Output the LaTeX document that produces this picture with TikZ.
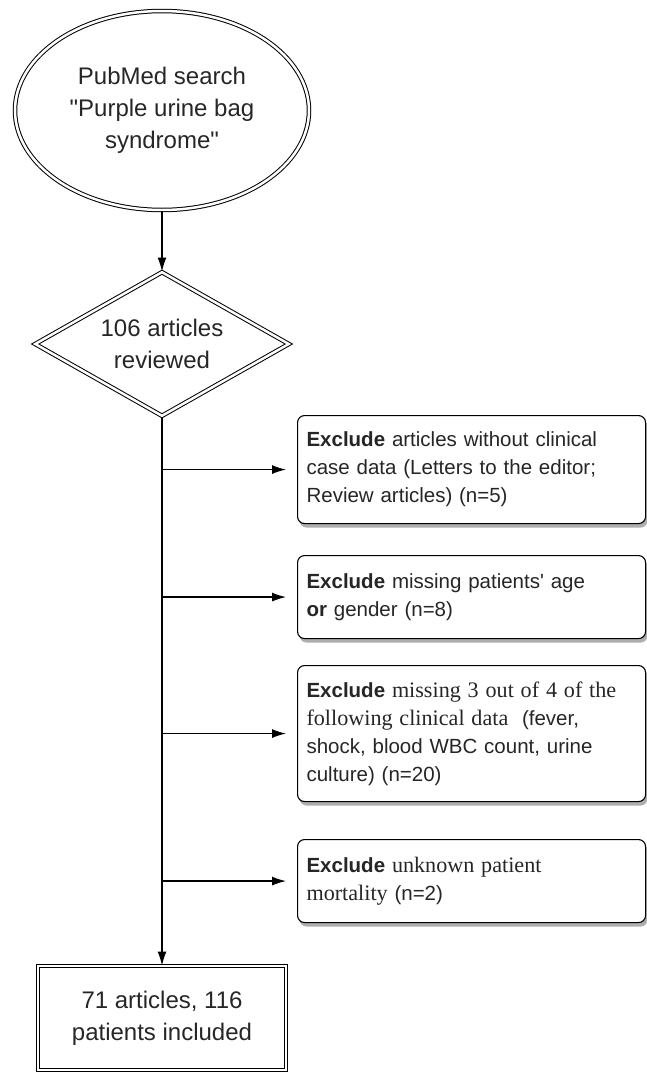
\documentclass[tikz,border=0pt]{standalone}
\usepackage{fontspec}
\setmainfont{Liberation Sans}
\newfontfamily\serifpart[Scale=1.08]{Liberation Serif}
\usepackage{tikz}
\usetikzlibrary{shapes.geometric, arrows.meta, positioning, calc, shadows}

\begin{document}
\begin{tikzpicture}[
    x=1pt, y=-1pt,
    big/.style={font=\fontsize{24}{32}\selectfont, align=center, text=black!85},
    search/.style={ellipse, draw, double, double distance=2.5pt, line width=1pt, minimum width=294pt, minimum height=199pt, inner sep=0pt, big},
    review/.style={diamond, draw, double, double distance=2.5pt, line width=1pt, aspect=1.76, minimum width=254pt, minimum height=144pt, inner sep=0pt, big},
    result/.style={rectangle, draw, double, double distance=2.5pt, line width=1pt, minimum width=248pt, minimum height=104pt, inner sep=0pt, big},
    exclude/.style={rectangle, draw, fill=white, rounded corners=7pt, line width=1.1pt, text width=330pt, inner xsep=9pt, align=left, anchor=north west,
      font=\fontsize{20.5}{28}\selectfont, text=black!85,
      drop shadow={shadow xshift=2pt, shadow yshift=-4pt, opacity=0.45, fill=black!70}},
    arrow/.style={line width=1.2pt, -{Latex[length=14pt,width=9pt]}}
  ]
  \useasboundingbox (0,0) rectangle (646,1074);
  \node (pubmed) [search] at (162,110.5) {PubMed search\\\textquotedbl Purple urine bag\\syndrome\textquotedbl};
  \node (reviewed) [review] at (162,344) {106 articles\\reviewed};
  \node (ex1) [exclude, minimum height=108pt] at (297,415) {\textbf{Exclude} articles without clinical\\case data (Letters to the editor;\\Review articles) (n=5)};
  \node (ex2) [exclude, minimum height=83pt] at (297,555) {\textbf{Exclude} missing patients\textquotesingle\ age\\\textbf{or} gender (n=8)};
  \node (ex3) [exclude, minimum height=136pt] at (297,665) {\textbf{Exclude} {\serifpart missing 3 out of 4 of the\\following clinical data}\ \ (fever,\\shock, blood WBC count, urine\\culture) (n=20)};
  \node (ex4) [exclude, minimum height=83pt] at (297,839) {\textbf{Exclude} {\serifpart unknown patient\\mortality} (n=2)};
  \node (included) [result] at (162,1018) {71 articles, 116\\patients included};

  \draw [arrow] (pubmed) -- (reviewed);
  \draw [arrow] (reviewed) -- (included);
  \foreach \ex in {ex1, ex2, ex3, ex4}
    \draw [arrow, shorten >=11pt] (reviewed.south |- \ex.west) -- (\ex.west);
\end{tikzpicture}
\end{document}
